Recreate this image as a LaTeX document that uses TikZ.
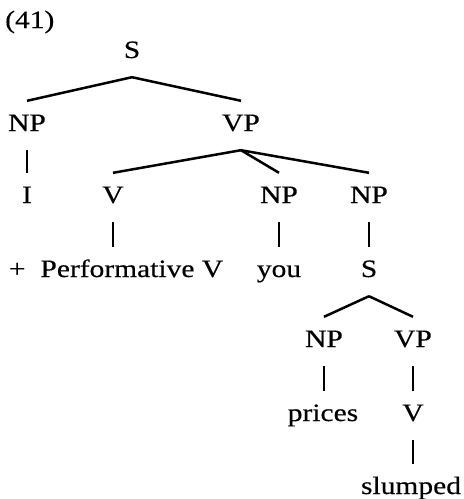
\documentclass[tikz,border=0pt]{standalone}
\usepackage{fontspec}
\setmainfont{Liberation Serif}[FakeStretch=1.18, FakeBold=0.4]
\begin{document}
\begin{tikzpicture}[x=1pt,y=-1pt,
  cat/.style={font=\fontsize{25}{28}\selectfont, anchor=base,
    inner xsep=0pt, inner ysep=0pt, text height=30pt, text depth=19pt},
  branch/.style={line width=2.5pt},
  label/.style={font=\fontsize{25}{28}\selectfont, anchor=base west, inner sep=0pt}]
\useasboundingbox (0,0) rectangle (464,499);
\node[label] (ex) at (5,28) {(41)};
% top clause
\node[cat] (S0)  at (132,58)  {S};
\node[cat] (NP0) at (27,131)  {NP};
\node[cat] (VP0) at (241,131) {VP};
\node[cat] (I)   at (27,203)  {I};
\node[cat] (V0)  at (113,203) {V};
\node[cat] (NP1) at (279,203) {NP};
\node[cat] (NP2) at (369,203) {NP};
\node[cat] (PV)  at (116,277) {+\hspace{15pt}Performative V};
\node[cat] (you) at (279,277) {you};
\node[cat] (S1)  at (369,277) {S};
% embedded clause
\node[cat] (NP3) at (324,347) {NP};
\node[cat] (VP1) at (413,347) {VP};
\node[cat] (pr)  at (323,421) {prices};
\node[cat] (V1)  at (413,421) {V};
\node[cat] (sl)  at (411,494) {slumped};
% branches
\draw[branch] (S0.south) -- (NP0.north);
\draw[branch] (S0.south) -- (VP0.north);
\draw[branch] (NP0.south) -- (I.north);
\draw[branch] (VP0.south) -- (V0.north);
\draw[branch] (VP0.south) -- (NP1.north);
\draw[branch] (VP0.south) -- (NP2.north);
\draw[branch] (V0.south) -- (V0.south |- PV.north);
\draw[branch] (NP1.south) -- (you.north);
\draw[branch] (NP2.south) -- (S1.north);
\draw[branch] (S1.south) -- (NP3.north);
\draw[branch] (S1.south) -- (VP1.north);
\draw[branch] (NP3.south) -- (NP3.south |- pr.north);
\draw[branch] (VP1.south) -- (V1.north);
\draw[branch] (V1.south) -- (V1.south |- sl.north);
\end{tikzpicture}
\end{document}
